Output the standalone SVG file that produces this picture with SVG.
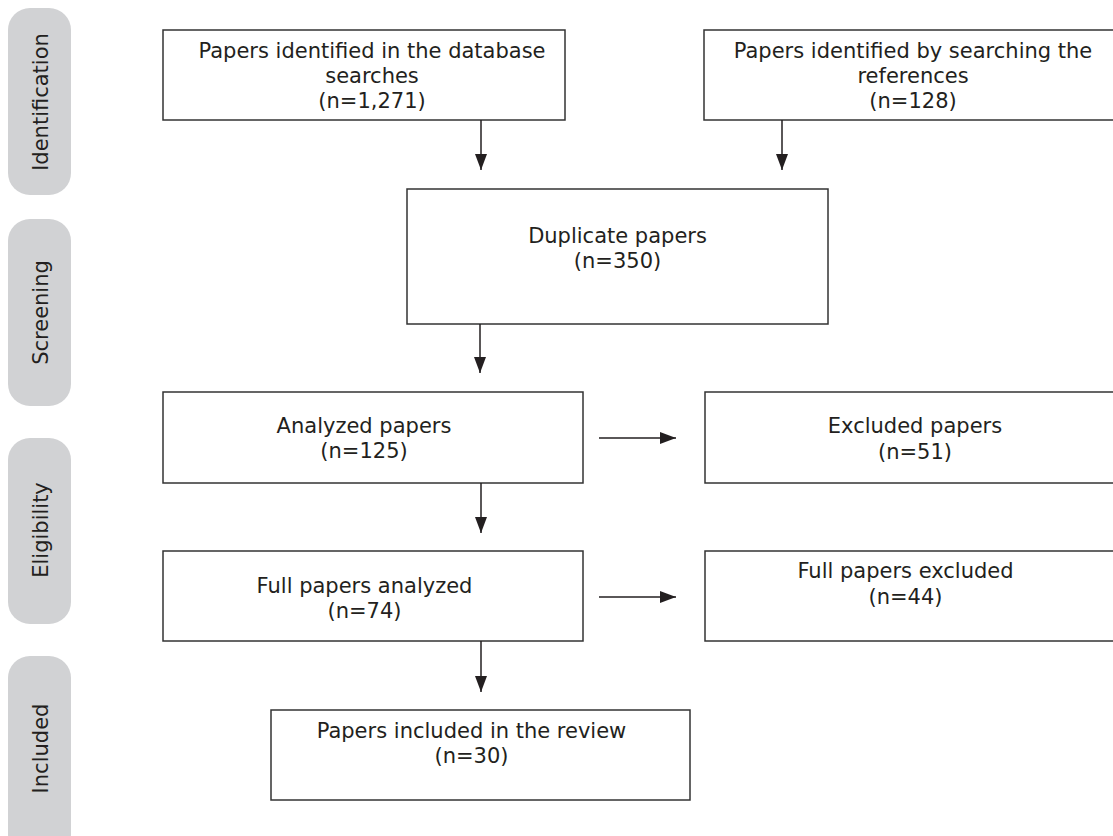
<svg xmlns="http://www.w3.org/2000/svg" width="1113" height="836" viewBox="0 0 1113 836">
<style>
.box{fill:#fff;stroke:#333;stroke-width:1.5}
.side{fill:#d1d2d4;stroke:none}
.t{font-family:"DejaVu Sans","Verdana",sans-serif;font-size:21px;fill:#231f20;text-anchor:middle}
.st{font-family:"DejaVu Sans","Verdana",sans-serif;font-size:21px;fill:#231f20;text-anchor:middle}
.c{stroke:#231f20;stroke-width:1.5;fill:none}
</style>
<defs>
<marker id="ah" viewBox="0 0 16 12" refX="16" refY="6" markerWidth="16" markerHeight="12" markerUnits="userSpaceOnUse" orient="auto">
<path d="M0,0 L16,6 L0,12 Z" fill="#231f20"/>
</marker>
</defs>
<rect width="1113" height="836" fill="#fff"/>
<g id="stage-identification">
<rect class="side" x="8" y="8" width="63" height="187" rx="22"/>
<text class="st" transform="translate(48,102) rotate(-90)">Identification</text>
</g>
<g id="stage-screening">
<rect class="side" x="8" y="219" width="63" height="187" rx="22"/>
<text class="st" transform="translate(48,312.5) rotate(-90)">Screening</text>
</g>
<g id="stage-eligibility">
<rect class="side" x="8" y="438" width="63" height="186" rx="22"/>
<text class="st" transform="translate(48,530) rotate(-90)">Eligibility</text>
</g>
<g id="stage-included">
<rect class="side" x="8" y="656" width="63" height="200" rx="22"/>
<text class="st" transform="translate(48,748.5) rotate(-90)">Included</text>
</g>
<g id="n-database">
<rect class="box" x="163" y="30" width="402" height="90"/>
<text class="t" x="372" y="58">Papers identified in the database</text>
<text class="t" x="372" y="83">searches</text>
<text class="t" x="372" y="108">(n=1,271)</text>
</g>
<g id="n-references">
<rect class="box" x="704" y="30" width="420" height="90"/>
<text class="t" x="913" y="58">Papers identified by searching the</text>
<text class="t" x="913" y="83">references</text>
<text class="t" x="913" y="108">(n=128)</text>
</g>
<g id="n-duplicate">
<rect class="box" x="407" y="189" width="421" height="135"/>
<text class="t" x="617.5" y="243">Duplicate papers</text>
<text class="t" x="617.5" y="268">(n=350)</text>
</g>
<g id="n-analyzed">
<rect class="box" x="163" y="392" width="420" height="91"/>
<text class="t" x="364" y="433">Analyzed papers</text>
<text class="t" x="364" y="458">(n=125)</text>
</g>
<g id="n-excluded">
<rect class="box" x="705" y="392" width="420" height="91"/>
<text class="t" x="915" y="433">Excluded papers</text>
<text class="t" x="915" y="459">(n=51)</text>
</g>
<g id="n-full-analyzed">
<rect class="box" x="163" y="551" width="420" height="90"/>
<text class="t" x="364.5" y="593">Full papers analyzed</text>
<text class="t" x="364.5" y="618">(n=74)</text>
</g>
<g id="n-full-excluded">
<rect class="box" x="705" y="551" width="420" height="90"/>
<text class="t" x="905.5" y="578">Full papers excluded</text>
<text class="t" x="905.5" y="604">(n=44)</text>
</g>
<g id="n-included">
<rect class="box" x="271" y="710" width="419" height="90"/>
<text class="t" x="471.5" y="738">Papers included in the review</text>
<text class="t" x="471.5" y="763">(n=30)</text>
</g>
<g id="connectors">
<line class="c" x1="481" y1="120" x2="481" y2="170" marker-end="url(#ah)"/>
<line class="c" x1="782" y1="120" x2="782" y2="170" marker-end="url(#ah)"/>
<line class="c" x1="480" y1="324" x2="480" y2="373" marker-end="url(#ah)"/>
<line class="c" x1="481" y1="483" x2="481" y2="533" marker-end="url(#ah)"/>
<line class="c" x1="481" y1="641" x2="481" y2="692" marker-end="url(#ah)"/>
<line class="c" x1="599" y1="438" x2="676" y2="438" marker-end="url(#ah)"/>
<line class="c" x1="599" y1="597" x2="676" y2="597" marker-end="url(#ah)"/>
</g>
</svg>
